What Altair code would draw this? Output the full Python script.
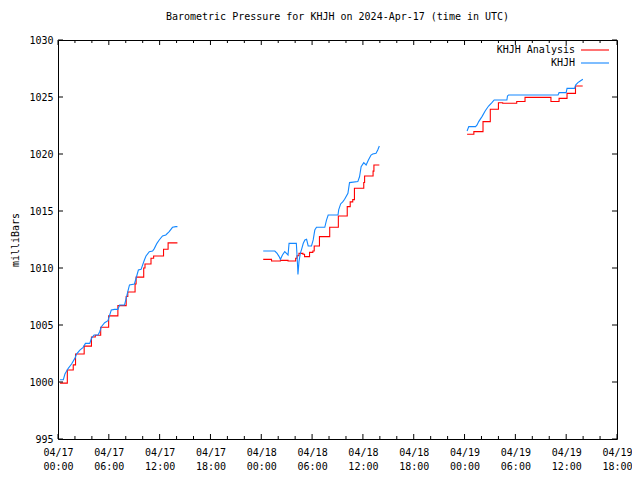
import altair as alt
import pandas as pd

title_text = "Barometric Pressure for KHJH on 2024-Apr-17 (time in UTC)"
series_names = ["KHJH Analysis", "KHJH"]
series_colors = ["#ff0000", "#1488ff"]
y_title = "milliBars"

# time is hours since 2024-04-17 00:00 UTC
# --- KHJH Analysis (stepped), three segments ---
an_h1 = [0.24, 1.1, 1.8, 2.07, 3.09, 3.95, 4.4, 5.04, 5.98, 7.07, 8.05, 8.24, 9.1, 9.22,
         10.12, 10.27, 10.98, 11.29, 12.46, 13.0, 14.1]
an_p1 = [999.9, 1001.05, 1001.5, 1002.45, 1003.15, 1003.95, 1004.1, 1004.8, 1005.8, 1006.7,
         1007.5, 1007.9, 1008.6, 1009.2, 1010.0, 1010.35, 1010.85, 1011.05, 1011.65, 1012.2, 1012.2]
an_h2 = [24.23, 25.21, 26.26, 27.16, 28.06, 28.22, 28.45, 28.92, 29.11, 29.7, 30.09, 30.25,
         30.87, 32.08, 33.1, 34.15, 34.5, 34.8, 35.0, 36.1, 36.2, 37.2, 37.3, 37.94]
an_p2 = [1010.76, 1010.61, 1010.67, 1010.61, 1010.85, 1011.08, 1011.28, 1011.2, 1011.0, 1011.37,
         1011.49, 1011.93, 1012.75, 1013.57, 1014.56, 1015.38, 1015.8, 1016.0, 1016.99, 1017.5,
         1018.07, 1018.5, 1019.04, 1019.04]
an_h3 = [48.3, 49.1, 50.18, 51.04, 52.0, 52.5, 54.16, 55.14, 58.2, 59.16, 60.1, 61.1, 61.95]
an_p3 = [1021.73, 1021.96, 1022.84, 1023.92, 1024.5, 1024.45, 1024.6, 1024.97, 1024.6, 1024.88,
         1025.32, 1025.97, 1025.97]

# --- KHJH observations, three segments ---
ob_h1 = [0.24, 0.63, 0.82, 1.21, 1.6, 1.99, 2.19, 2.58, 2.97, 3.24, 3.75, 3.95, 4.26, 4.73,
         4.92, 5.12, 5.51, 5.9, 6.1, 6.29, 6.68, 7.07, 7.27, 7.85, 8.05, 8.24, 8.44, 9.02, 9.22,
         9.49, 9.81, 10.2, 10.39, 10.78, 11.17, 11.37, 11.68, 11.95, 12.34, 12.73, 13.13, 13.52,
         13.91, 14.1]
ob_p1 = [1000.2, 1000.2, 1000.7, 1001.2, 1001.58, 1002.07, 1002.45, 1002.8, 1003.04, 1003.39,
         1003.39, 1003.83, 1004.12, 1004.12, 1004.41, 1004.85, 1005.2, 1005.38, 1005.87, 1006.31,
         1006.37, 1006.37, 1006.75, 1006.75, 1007.34, 1007.92, 1008.51, 1008.6, 1009.1, 1009.82,
         1009.88, 1010.7, 1011.05, 1011.43, 1011.49, 1011.7, 1012.16, 1012.46, 1012.81, 1012.9,
         1013.19, 1013.57, 1013.63, 1013.63]
ob_h2 = [24.23, 25.6, 25.87, 26.11, 26.26, 26.5, 26.77, 27.16, 27.28, 28.14, 28.22, 28.3, 28.33,
         28.45, 28.61, 28.76, 28.96, 29.15, 29.35, 29.54, 29.93, 30.13, 30.32, 30.52, 31.5, 31.7,
         31.9, 33.06, 33.14, 33.37, 33.64, 33.84, 34.23, 34.42, 35.4, 35.6, 35.79, 36.1, 36.38,
         36.65, 36.96, 37.16, 37.55, 37.75, 37.94]
ob_p2 = [1011.49, 1011.49, 1011.28, 1011.0, 1010.76, 1011.14, 1011.43, 1011.14, 1012.16, 1012.16,
         1011.14, 1009.97, 1009.44, 1010.55, 1011.28, 1011.64, 1012.17, 1012.46, 1012.52, 1011.93,
         1011.93, 1012.46, 1013.33, 1013.57, 1013.57, 1014.2, 1014.65, 1014.65, 1015.1, 1015.62,
         1015.82, 1016.03, 1016.55, 1017.49, 1017.58, 1018.0, 1018.89, 1019.24, 1019.04, 1019.48,
         1019.91, 1020.0, 1020.06, 1020.35, 1020.7]
ob_h3 = [48.3, 48.5, 49.3, 49.48, 49.67, 50.06, 50.45, 50.84, 51.23, 51.5, 53.0, 53.07, 53.2,
         59.04, 59.16, 60.0, 60.1, 61.0, 61.11, 61.38, 61.66, 61.97]
ob_p3 = [1022.02, 1022.4, 1022.4, 1022.55, 1022.84, 1023.28, 1023.8, 1024.21, 1024.5, 1024.74,
         1024.74, 1025.09, 1025.18, 1025.18, 1025.38, 1025.38, 1025.76, 1025.76, 1026.05, 1026.26,
         1026.4, 1026.55]

x_major = list(range(0, 67, 6))
x_minor = [v for v in range(0, 67, 2) if v % 6 != 0]
y_major = list(range(995, 1031, 5))

W, H = 559, 399
MONO = "DejaVu Sans Mono"


def frame(segs):
    rows = []
    for i, (hs, ps) in enumerate(segs):
        for h, p in zip(hs, ps):
            rows.append({"h": h, "p": p, "seg": i})
    return pd.DataFrame(rows)


an_df = frame([(an_h1, an_p1), (an_h2, an_p2), (an_h3, an_p3)])
ob_df = frame([(ob_h1, ob_p1), (ob_h2, ob_p2), (ob_h3, ob_p3)])

x_scale = alt.Scale(domain=[0, 66], nice=False, zero=False)
y_scale = alt.Scale(domain=[995, 1030], nice=False, zero=False)

label_expr = ("['04/' + (17 + floor(datum.value / 24)), "
              "(datum.value % 24 < 10 ? '0' : '') + (datum.value % 24) + ':00']")

x_axis = alt.Axis(
    values=x_major, labelExpr=label_expr, tickSize=0, domain=False, grid=False, title=None,
    labelFont=MONO, labelFontSize=10, labelColor="black", labelPadding=8, labelLineHeight=14,
    labelFlush=False, labelOverlap=False)
y_axis = alt.Axis(
    values=y_major, tickSize=0, domain=False, grid=False, title=y_title,
    titleFont=MONO, titleFontSize=10, titleFontWeight="normal", titleColor="black",
    titlePadding=8, labelFont=MONO, labelFontSize=10, labelColor="black", labelPadding=5,
    labelFlush=False, format="d")

x_enc = alt.X("h:Q", scale=x_scale, axis=x_axis)
y_enc = alt.Y("p:Q", scale=y_scale, axis=y_axis)

an_line = alt.Chart(an_df).mark_line(
    interpolate="step-after", color=series_colors[0], strokeWidth=1.1
).encode(x=x_enc, y=y_enc, detail="seg:N")

ob_line = alt.Chart(ob_df).mark_line(
    color=series_colors[1], strokeWidth=1.1
).encode(x=x_enc, y=y_enc, detail="seg:N")

xmaj_df = pd.DataFrame({"h": x_major})
xmin_df = pd.DataFrame({"h": x_minor})
ymaj_df = pd.DataFrame({"p": y_major})
one_df = pd.DataFrame({"k": [0]})

tick_layers = [
    alt.Chart(xmaj_df).mark_rule(color="black", strokeWidth=1).encode(
        x=x_enc, y=alt.value(H), y2=alt.value(H - 5)),
    alt.Chart(xmaj_df).mark_rule(color="black", strokeWidth=1).encode(
        x=x_enc, y=alt.value(0), y2=alt.value(5)),
    alt.Chart(xmin_df).mark_rule(color="black", strokeWidth=1).encode(
        x=x_enc, y=alt.value(H), y2=alt.value(H - 3)),
    alt.Chart(xmin_df).mark_rule(color="black", strokeWidth=1).encode(
        x=x_enc, y=alt.value(0), y2=alt.value(3)),
    alt.Chart(ymaj_df).mark_rule(color="black", strokeWidth=1).encode(
        y=y_enc, x=alt.value(0), x2=alt.value(5)),
    alt.Chart(ymaj_df).mark_rule(color="black", strokeWidth=1).encode(
        y=y_enc, x=alt.value(W - 5), x2=alt.value(W)),
]

legend_layers = []
for i, (name, col) in enumerate(zip(series_names, series_colors)):
    yy = 10 + 13 * i
    legend_layers.append(
        alt.Chart(one_df).mark_text(align="right", baseline="middle", font=MONO,
                                    fontSize=10, color="black").encode(
            x=alt.value(517), y=alt.value(yy), text=alt.value(name)))
    legend_layers.append(
        alt.Chart(one_df).mark_rule(color=col, strokeWidth=1.1).encode(
            x=alt.value(523), x2=alt.value(551), y=alt.value(yy)))

chart = alt.layer(an_line, ob_line, *tick_layers, *legend_layers).properties(
    width=W, height=H,
    title=alt.TitleParams(text=title_text, font=MONO, fontSize=10, fontWeight="normal",
                          color="black", anchor="middle", offset=13),
    padding={"left": 50, "top": 32, "right": 15, "bottom": 33},
    autosize="none",
    background="white",
).configure_view(stroke="black", strokeWidth=1)

chart.save("out.html", embed_options={"renderer": "svg", "actions": False})
